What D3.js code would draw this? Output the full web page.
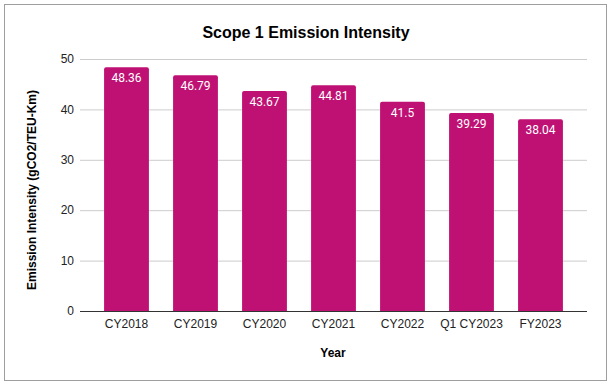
<!DOCTYPE html>
<html>
<head>
<meta charset="utf-8">
<script src="https://cdn.jsdelivr.net/npm/d3@7"></script>
<style>
  body { margin: 0; background: #fff; }
  text { font-family: "Liberation Sans", Arial, sans-serif; }
  text.value { font-family: Roboto, "Liberation Sans", sans-serif; }
</style>
</head>
<body>
<div id="chart"></div>
<script>
var categories = ['CY2018', 'CY2019', 'CY2020', 'CY2021', 'CY2022', 'Q1 CY2023', 'FY2023'],
    values = [48.36, 46.79, 43.67, 44.81, 41.5, 39.29, 38.04],
    yTicks = [0, 10, 20, 30, 40, 50];

var W = 614, H = 387,
    barColor = '#bf1173';

var svg = d3.select('#chart')
    .append('svg')
    .attr('width', W)
    .attr('height', H);

// outer frame
svg.append('rect')
    .attr('x', 4.5).attr('y', 4.5)
    .attr('width', 602).attr('height', 376)
    .attr('fill', '#fff')
    .attr('stroke', '#9e9e9e');

var x = d3.scaleBand().domain(categories).range([92, 575]).paddingInner(0.35).paddingOuter(0.175),
    y = d3.scaleLinear().domain([0, 50]).range([311, 59]);

// gridlines
svg.append('g')
    .selectAll('line')
    .data(yTicks.slice(1))
    .enter().append('line')
    .attr('x1', 80).attr('x2', 587)
    .attr('y1', function(d) { return y(d) + 0.5; })
    .attr('y2', function(d) { return y(d) + 0.5; })
    .attr('stroke', '#cccccc');

// y tick labels
svg.append('g')
    .selectAll('text')
    .data(yTicks)
    .enter().append('text')
    .attr('x', 74)
    .attr('y', function(d) { return y(d); })
    .attr('dy', '0.35em')
    .attr('text-anchor', 'end')
    .style('font-size', '12px')
    .attr('fill', '#222')
    .text(function(d) { return d; });

// bars
svg.append('g')
    .selectAll('path')
    .data(values)
    .enter().append('path')
    .attr('fill', barColor)
    .attr('d', function(d, i) {
        var x0 = x(categories[i]), w = x.bandwidth(), y0 = y(d), y1 = y(0), r = 2;
        return 'M' + x0 + ',' + y1 + 'V' + (y0 + r) + 'Q' + x0 + ',' + y0 + ' ' + (x0 + r) + ',' + y0 +
            'H' + (x0 + w - r) + 'Q' + (x0 + w) + ',' + y0 + ' ' + (x0 + w) + ',' + (y0 + r) + 'V' + y1 + 'Z';
    });

// value labels
svg.append('g')
    .selectAll('text')
    .data(values)
    .enter().append('text')
    .attr('class', 'value')
    .attr('x', function(d, i) { return x(categories[i]) + x.bandwidth() / 2; })
    .attr('y', function(d) { return y(d) + 15; })
    .attr('text-anchor', 'middle')
    .style('font-size', '12px')
    .attr('fill', '#fff')
    .text(function(d) { return d; });

// x baseline
svg.append('line')
    .attr('x1', 80).attr('x2', 587)
    .attr('y1', y(0) + 0.5).attr('y2', y(0) + 0.5)
    .attr('stroke', '#333');

// x tick labels
svg.append('g')
    .selectAll('text')
    .data(categories)
    .enter().append('text')
    .attr('x', function(d) { return x(d) + x.bandwidth() / 2; })
    .attr('y', 328)
    .attr('text-anchor', 'middle')
    .style('font-size', '12px')
    .attr('fill', '#222')
    .text(function(d) { return d; });

// title
svg.append('text')
    .attr('x', 306).attr('y', 38)
    .attr('text-anchor', 'middle')
    .style('font-size', '16px')
    .style('font-weight', 'bold')
    .attr('fill', '#000')
    .text('Scope 1 Emission Intensity');

// axis titles
svg.append('text')
    .attr('x', 333).attr('y', 357)
    .attr('text-anchor', 'middle')
    .style('font-size', '12px')
    .style('font-weight', 'bold')
    .attr('fill', '#000')
    .text('Year');

svg.append('text')
    .attr('transform', 'translate(36,190) rotate(-90)')
    .attr('text-anchor', 'middle')
    .style('font-size', '12px')
    .style('font-weight', 'bold')
    .attr('fill', '#000')
    .text('Emission Intensity (gCO2/TEU-Km)');
</script>
</body>
</html>
